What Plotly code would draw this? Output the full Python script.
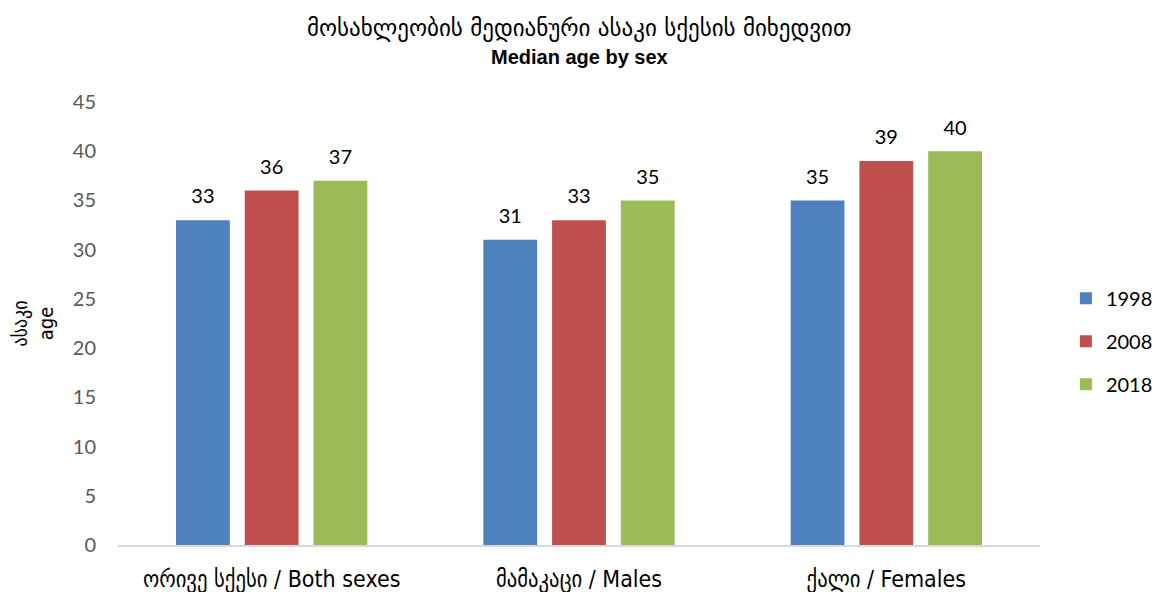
import plotly.graph_objects as go

categories = ["ორივე სქესი / Both sexes", "მამაკაცი / Males", "ქალი / Females"]
years = ["1998", "2008", "2018"]
values_1998 = [33, 31, 35]
values_2008 = [36, 33, 39]
values_2018 = [37, 35, 40]
colors = ["#4F81BD", "#C0504D", "#9BBB59"]

W, H = 1162, 592
ML, MR, MT, MB = 110, 127, 94, 55

fig = go.Figure()
for name, vals, col in zip(years, [values_1998, values_2008, values_2018], colors):
    fig.add_trace(go.Bar(
        x=categories, y=vals, name=name, marker_color=col,
        marker_line_width=0, legendgroup=name,
        text=[f"<span style='font-size:20px'>{v}</span><br> " for v in vals],
        textposition="outside",
        textfont=dict(size=9, color="black", family="Lato"),
        cliponaxis=False,
    ))

fig.update_layout(
    width=W, height=H,
    paper_bgcolor="white", plot_bgcolor="white",
    margin=dict(l=ML, r=MR, t=MT, b=MB),
    barmode="group", bargap=0.329, bargroupgap=0.217,
    font=dict(family="DejaVu Sans", color="#595959"),
    showlegend=True,
    legend=dict(
        x=1 + 26 / (W - ML - MR), xanchor="left", y=0.46, yanchor="middle",
        font=dict(size=20, color="black", family="Lato"),
        tracegroupgap=14, itemsizing="constant",
    ),
    xaxis=dict(
        showline=True, linecolor="#D9D9D9", linewidth=2, automargin=False,
        ticks="", tickfont=dict(size=23, color="black", family="DejaVu Sans Condensed, DejaVu Sans"),
        ticklabelstandoff=12,
    ),
    yaxis=dict(
        range=[0, 45], dtick=5, showgrid=False, zeroline=False, automargin=False,
        tickfont=dict(size=20, color="#595959", family="Lato"),
        ticklabelstandoff=21,
        title=dict(text="ასაკი<br>age", font=dict(size=20, color="black", family="DejaVu Sans Condensed, DejaVu Sans"), standoff=22),
    ),
)

plot_h = H - MT - MB
def py(fy):
    return (H - MB - fy) / plot_h

fig.add_annotation(text="მოსახლეობის მედიანური ასაკი სქესის მიხედვით", x=0.5, xref="paper",
                   y=py(20), yref="paper", showarrow=False,
                   font=dict(size=23, color="black", family="DejaVu Sans"),
                   xanchor="center", yanchor="middle")
fig.add_annotation(text="<b>Median age by sex</b>", x=0.5, xref="paper",
                   y=py(49), yref="paper", showarrow=False,
                   font=dict(size=20, color="black", family="Liberation Sans Narrow, Liberation Sans"),
                   xanchor="center", yanchor="middle")

fig.write_html("out.html")
